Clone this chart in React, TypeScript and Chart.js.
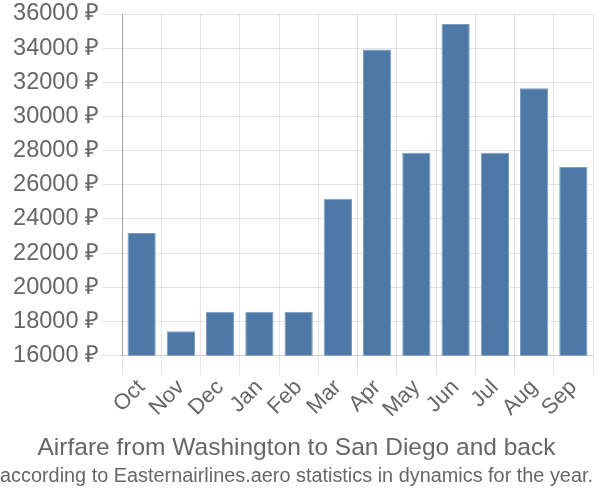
import React, { useEffect, useRef } from "react";
import { Chart, registerables } from "chart.js";

Chart.register(...registerables);

const months = ["Oct", "Nov", "Dec", "Jan", "Feb", "Mar", "Apr", "May", "Jun", "Jul", "Aug", "Sep"];
const prices = [23180, 17430, 18570, 18570, 18570, 25180, 33920, 27880, 35410, 27880, 31660, 27040];
const yMin = 16000;
const yMax = 36000;
const yStep = 2000;
const titleText = "Airfare from Washington to San Diego and back";
const subtitleText = "according to Easternairlines.aero statistics in dynamics for the year.";

export default function App() {
  const ref = useRef<HTMLCanvasElement | null>(null);

  useEffect(() => {
    document.body.style.margin = "0";
    const canvas = ref.current;
    if (!canvas) return;
    Chart.defaults.font.family = "'Liberation Sans', Arial, sans-serif";
    Chart.defaults.color = "#666";
    const chart = new Chart(canvas, {
      type: "bar",
      data: {
        labels: months,
        datasets: [
          {
            data: prices,
            backgroundColor: "#4e79a7",
            borderColor: "#7d9dc2",
            borderWidth: 1,
          },
        ],
      },
      options: {
        animation: false,
        responsive: false,
        maintainAspectRatio: false,
        layout: { padding: { top: 0, right: 7, left: 0, bottom: 0 } },
        plugins: {
          legend: { display: false },
          tooltip: { enabled: false },
          title: {
            display: true,
            text: titleText,
            position: "bottom",
            weight: 1000,
            font: { size: 24.5, weight: "normal" },
            color: "#666",
            padding: { top: 0, bottom: 1 },
          } as any,
          subtitle: {
            display: true,
            text: subtitleText,
            position: "bottom",
            weight: 2000,
            font: { size: 20, weight: "normal" },
            color: "#666",
            padding: { top: 0, bottom: 12 },
          } as any,
        },
        scales: {
          x: {
            grid: { color: "rgba(0,0,0,0.1)", tickLength: 19 },
            border: { color: "rgba(0,0,0,0.1)" },
            ticks: {
              font: { size: 22 },
              color: "#666",
              autoSkip: false,
              minRotation: 45,
              maxRotation: 45,
              padding: 0,
            },
            afterFit: (scale: any) => {
              scale.height = 78;
            },
          },
          y: {
            min: yMin,
            max: yMax,
            grid: { color: "rgba(0,0,0,0.1)", tickLength: 20 },
            border: { color: "rgba(0,0,0,0.3)" },
            ticks: {
              stepSize: yStep,
              font: { size: 23.5 },
              color: "#666",
              padding: 3,
              callback: (v: any) => `${v} ₽`,
            },
            afterFit: (scale: any) => {
              scale.width = 122;
              scale.paddingTop = 14;
              scale.paddingBottom = 0;
            },
          },
        },
      },
    });
    return () => chart.destroy();
  }, []);

  return <canvas ref={ref} width={600} height={500} style={{ display: "block" }} />;
}
